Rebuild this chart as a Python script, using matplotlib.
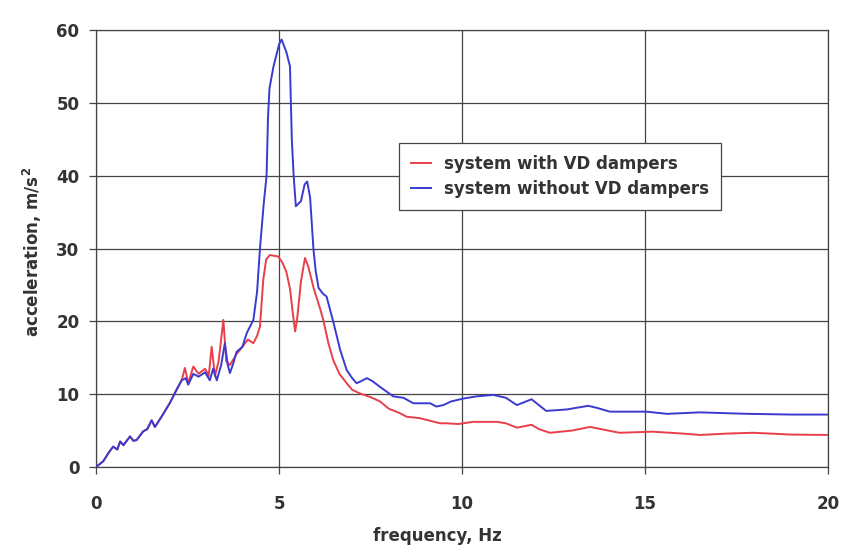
import matplotlib
matplotlib.use("Agg")
import matplotlib.pyplot as plt

# ---- data ----
freq_with = [0.0, 0.2, 0.35, 0.47, 0.58, 0.66, 0.75, 0.93, 1.02, 1.11, 1.29, 1.4, 1.52, 1.61,
             1.79, 2.02, 2.2, 2.34, 2.43, 2.52, 2.66, 2.8, 2.98, 3.08, 3.16, 3.25, 3.35, 3.48,
             3.56, 3.66, 3.84, 4.0, 4.15, 4.3, 4.4, 4.48, 4.57, 4.65, 4.75, 4.98, 5.1, 5.2,
             5.3, 5.38, 5.44, 5.5, 5.6, 5.71, 5.8, 5.95, 6.12, 6.21, 6.35, 6.48, 6.65, 6.85,
             7.0, 7.21, 7.5, 7.76, 8.0, 8.3, 8.49, 8.85, 9.4, 9.58, 9.9, 10.3, 10.95, 11.2,
             11.5, 11.7, 11.9, 12.1, 12.4, 13.0, 13.5, 13.9, 14.3, 15.2, 16.0, 16.5, 17.3,
             17.96, 19.0, 20.0]
acc_with = [0.0, 0.8, 2.0, 2.8, 2.4, 3.5, 3.0, 4.2, 3.6, 3.7, 4.9, 5.2, 6.4, 5.5,
            6.9, 8.8, 10.6, 11.9, 13.6, 11.5, 13.8, 12.8, 13.5, 12.5, 16.5, 12.5, 14.5, 20.2,
            14.5, 14.0, 15.5, 16.5, 17.5, 17.0, 18.0, 19.3, 25.7, 28.5, 29.1, 28.9, 28.0, 26.8,
            24.5, 21.0, 18.6, 20.5, 25.5, 28.7, 27.5, 24.5, 21.8, 20.2, 17.0, 14.7, 12.8, 11.5,
            10.6, 10.1, 9.6, 9.0, 8.0, 7.4, 6.9, 6.7, 6.0, 6.0, 5.9, 6.2, 6.2, 6.0,
            5.4, 5.6, 5.8, 5.2, 4.7, 5.0, 5.5, 5.1, 4.7, 4.85, 4.6, 4.4, 4.6,
            4.7, 4.45, 4.4]

freq_without = [0.0, 0.2, 0.35, 0.47, 0.58, 0.66, 0.75, 0.93, 1.02, 1.11, 1.29, 1.4, 1.52, 1.61,
                1.79, 2.02, 2.2, 2.34, 2.45, 2.52, 2.66, 2.8, 2.98, 3.11, 3.2, 3.3, 3.42, 3.52,
                3.6, 3.66, 3.75, 3.84, 4.0, 4.12, 4.3, 4.4, 4.48, 4.58, 4.66, 4.7, 4.74, 4.85,
                5.0, 5.07, 5.2, 5.3, 5.35, 5.4, 5.46, 5.6, 5.7, 5.77, 5.85, 5.94, 6.0, 6.08,
                6.2, 6.3, 6.4, 6.48, 6.67, 6.85, 7.0, 7.12, 7.25, 7.4, 7.55, 7.76, 8.12, 8.4,
                8.67, 9.13, 9.3, 9.49, 9.7, 10.04, 10.4, 10.86, 11.2, 11.5, 11.7, 11.9, 12.1,
                12.3, 12.86, 13.45, 13.7, 14.04, 15.04, 15.6, 16.5, 17.8, 19.0, 20.0]
acc_without = [0.0, 0.8, 2.0, 2.8, 2.4, 3.5, 3.0, 4.2, 3.6, 3.7, 4.9, 5.2, 6.4, 5.5,
               6.9, 8.8, 10.6, 11.9, 12.2, 11.3, 12.8, 12.4, 13.0, 11.9, 13.5, 11.9, 14.0, 17.0,
               14.0, 12.9, 14.2, 15.8, 16.5, 18.4, 20.2, 24.0, 30.0, 36.0, 40.0, 48.0, 52.0, 55.0,
               58.0, 58.7, 57.0, 55.0, 45.0, 40.0, 35.8, 36.5, 38.8, 39.2, 37.0, 30.0, 27.0, 24.6,
               23.8, 23.4, 21.5, 20.0, 16.1, 13.3, 12.2, 11.5, 11.8, 12.2, 11.8, 11.0, 9.7, 9.5,
               8.75, 8.75, 8.3, 8.5, 9.0, 9.4, 9.7, 9.9, 9.5, 8.5, 8.9, 9.3, 8.5,
               7.7, 7.9, 8.4, 8.1, 7.6, 7.6, 7.3, 7.5, 7.3, 7.2, 7.2]

x_ticks = [0, 5, 10, 15, 20]
y_ticks = [0, 10, 20, 30, 40, 50, 60]
label_with = "system with VD dampers"
label_without = "system without VD dampers"

plt.rcParams['font.family'] = ['DejaVu Sans']
plt.rcParams['mathtext.fontset'] = 'dejavusans'

fig = plt.figure(figsize=(8.46, 5.56), dpi=100)
fig.patch.set_facecolor('white')
ax = fig.add_axes([96/846, 1-467/556, (828-96)/846, (467-30)/556])

ax.plot(freq_with, acc_with, color='#e8404a', lw=1.4, label=label_with, zorder=3)
ax.plot(freq_without, acc_without, color='#3a3ad0', lw=1.4, label=label_without, zorder=4)

ax.set_xlim(0, 20)
ax.set_ylim(0, 60)
ax.set_xticks(x_ticks)
ax.set_yticks(y_ticks)
ax.grid(True, color='#444444', lw=0.9)
ax.set_axisbelow(True)
for s in ax.spines.values():
    s.set_color('#444444')
    s.set_linewidth(0.9)
ax.tick_params(axis='both', direction='out', length=5, width=0.9, color='#444444',
               labelsize=12, labelcolor='#333333')
ax.tick_params(axis='x', pad=15)
ax.tick_params(axis='y', pad=7)
for lab in ax.get_xticklabels() + ax.get_yticklabels():
    lab.set_fontweight('bold')

ax.set_xlabel("frequency, Hz", fontsize=12, fontweight='bold', color='#333333')
ax.xaxis.set_label_coords((437 - 96) / (828 - 96), -(527 - 467) / (467 - 30))
ax.set_ylabel("acceleration, m/s$^{\\mathbf{2}}$", fontsize=12, fontweight='bold', color='#333333')
ax.yaxis.set_label_coords(-(96 - 44) / (828 - 96), (467 - 252) / (467 - 30))

leg = ax.legend(loc='upper left', bbox_to_anchor=(399/846, 1-143/556),
                bbox_transform=fig.transFigure, borderaxespad=0, frameon=True,
                fancybox=False, edgecolor='#444444', framealpha=1,
                handlelength=1.2, handletextpad=0.8, borderpad=0.7, labelspacing=0.45,
                prop={'weight': 'bold', 'size': 12})
leg.get_frame().set_linewidth(0.9)
for t in leg.get_texts():
    t.set_color('#333333')

fig.savefig("out.png", dpi=100)
